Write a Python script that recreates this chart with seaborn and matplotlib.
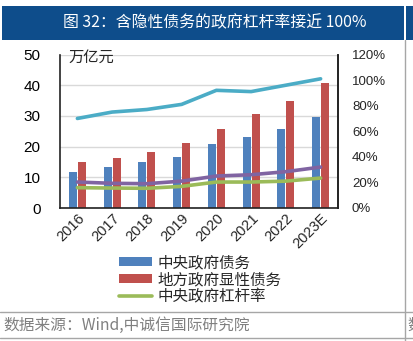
import numpy as np
import pandas as pd
import matplotlib
matplotlib.use("Agg")
import matplotlib.pyplot as plt
from matplotlib.patches import Patch, Rectangle
from matplotlib.lines import Line2D
from matplotlib.ticker import FuncFormatter
import seaborn as sns

# ---- data ----
years = ["2016", "2017", "2018", "2019", "2020", "2021", "2022", "2023E"]
central_debt = [11.7, 13.3, 14.9, 16.6, 20.7, 23.2, 25.8, 29.5]       # 万亿元
local_explicit_debt = [15.1, 16.4, 18.2, 21.1, 25.6, 30.5, 35.0, 40.7]  # 万亿元
lev_incl_implicit = [70, 75, 77, 81, 92, 91, 96, 101]                   # %
lev_gov = [20.3, 19.3, 19.0, 21.0, 25.0, 26.0, 28.4, 32.0]              # %
lev_central = [15.9, 15.6, 15.4, 16.9, 20.3, 20.3, 21.0, 23.4]          # %

bar_names = ["中央政府债务", "地方政府显性债务"]
line_name_green = "中央政府杠杆率"
title = "图 32：含隐性债务的政府杠杆率接近 100%"
unit = "万亿元"
source = "数据来源：Wind,中诚信国际研究院"

left_ticks = [0, 10, 20, 30, 40, 50]
right_ticks = [0, 20, 40, 60, 80, 100, 120]

BLUE = "#4f81bd"
RED = "#c0504d"
GREEN = "#9bbb59"
PURPLE = "#8064a2"
CYAN = "#4bacc6"
NAVY = "#0e4d8b"

sns.set_style("white")
plt.rcParams["font.family"] = ["Liberation Sans", "Noto Sans CJK SC", "DejaVu Sans"]

fig = plt.figure(figsize=(4.14, 3.41), dpi=100)
ax = fig.add_axes([60 / 414, 1 - 208 / 341, 278 / 414, 153.5 / 341])

bars = pd.DataFrame({
    "year": years * 2,
    "value": central_debt + local_explicit_debt,
    "series": [bar_names[0]] * len(years) + [bar_names[1]] * len(years),
})
sns.barplot(data=bars, x="year", y="value", hue="series", order=years,
            hue_order=bar_names, palette=[BLUE, RED], width=0.52, gap=0.12,
            ax=ax, legend=False, linewidth=0, saturation=1)
ax.set_ylim(0, 50)
ax.set_xlim(-0.5, len(years) - 0.5)
ax.set_yticks(left_ticks)
ax.set_xlabel("")
ax.set_ylabel("")
ax.yaxis.grid(True, color="#d9d9d9", linewidth=1)
ax.set_axisbelow(True)
ax.tick_params(axis="y", length=0, labelsize=11, pad=14, colors="#000000")
ax.tick_params(axis="x", length=0, labelsize=10.5, pad=2)
for lbl in ax.get_xticklabels():
    lbl.set_rotation(45)
    lbl.set_ha("right")
    lbl.set_rotation_mode("anchor")
for s in ["left", "bottom", "right"]:
    ax.spines[s].set_color("#222222")
    ax.spines[s].set_linewidth(1.2)
ax.spines["top"].set_visible(False)

ax2 = ax.twinx()
pos = np.arange(len(years))
for vals, col in [(lev_incl_implicit, CYAN), (lev_gov, PURPLE), (lev_central, GREEN)]:
    sns.lineplot(x=pos, y=vals, color=col, linewidth=2.6, ax=ax2, legend=False)
ax2.set_ylim(0, 120)
ax2.set_yticks(right_ticks)
ax2.yaxis.set_major_formatter(FuncFormatter(lambda v, p: f"{v:.0f}%"))
ax2.tick_params(axis="y", length=0, labelsize=9.5, pad=10)
ax2.set_xlim(-0.5, len(years) - 0.5)
for s in ["top", "left", "bottom"]:
    ax2.spines[s].set_visible(False)
ax2.spines["right"].set_color("#222222")
ax2.spines["right"].set_linewidth(1.2)

fig.text(68 / 414, 1 - 57 / 341, unit, fontsize=11, va="center", ha="left",
         family=["Noto Sans CJK SC"])

handles = [Patch(facecolor=BLUE, edgecolor="none"),
           Patch(facecolor=RED, edgecolor="none"),
           Line2D([0], [0], color=GREEN, linewidth=2.6)]
fig.legend(handles, bar_names + [line_name_green], loc="upper left",
           bbox_to_anchor=(110 / 414, 1 - 245 / 341), frameon=False,
           handlelength=2.1, handleheight=0.5,
           handletextpad=0.35, labelspacing=0.0, borderpad=0.1,
           prop={"family": ["Noto Sans CJK SC"], "size": 11.2})

# title banner
fig.patches.append(Rectangle((2 / 414, 1 - 40 / 341), 402 / 414, 34 / 341,
                             transform=fig.transFigure, facecolor=NAVY,
                             edgecolor="none", zorder=0))
fig.patches.append(Rectangle((406 / 414, 1 - 40 / 341), 10 / 414, 34 / 341,
                             transform=fig.transFigure, facecolor=NAVY,
                             edgecolor="none", zorder=0))
fig.text(63 / 414, 1 - 23 / 341, title, color="white", fontsize=11.4,
         va="center", ha="left", family=["Noto Sans CJK SC", "DejaVu Sans"])

# separators and footer
fig.add_artist(Line2D([405 / 414, 405 / 414], [0, 1 - 40 / 341],
                      transform=fig.transFigure, color="#a6a6a6", linewidth=1))
for yy in [312, 338]:
    fig.add_artist(Line2D([0, 1], [1 - yy / 341, 1 - yy / 341],
                          transform=fig.transFigure, color="#a6a6a6", linewidth=1))
fig.text(3 / 414, 1 - 325 / 341, source, color="#808080", fontsize=11.3,
         va="center", ha="left", family=["Noto Sans CJK SC", "DejaVu Sans"])
fig.text(407 / 414, 1 - 325 / 341, source[0], color="#808080", fontsize=11.3,
         va="center", ha="left", family=["Noto Sans CJK SC"])

fig.savefig("out.png", dpi=100)
